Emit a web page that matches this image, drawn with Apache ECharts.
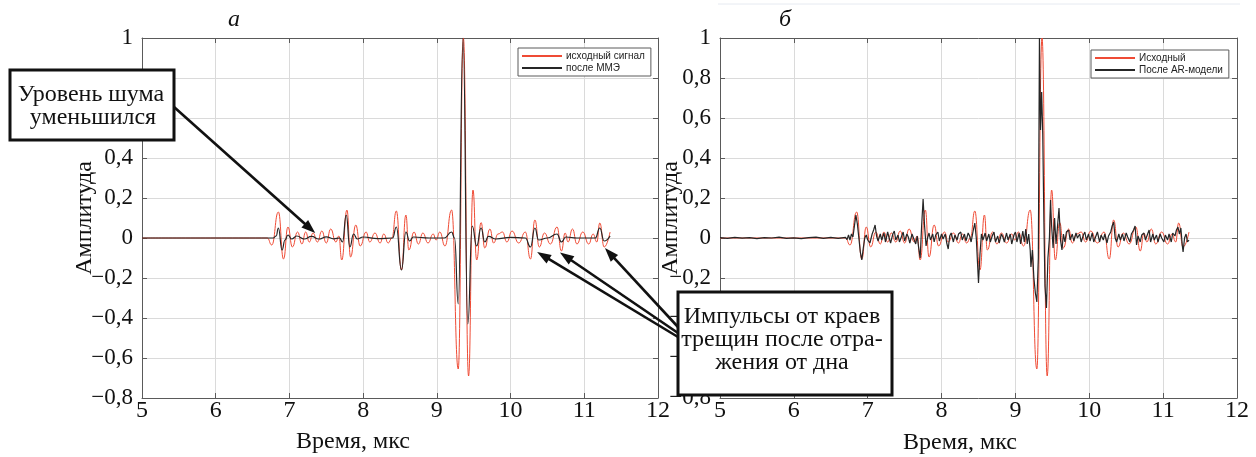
<!DOCTYPE html>
<html><head><meta charset="utf-8">
<script src="https://cdn.jsdelivr.net/npm/echarts@6/dist/echarts.min.js"></script>
<style>html,body{margin:0;padding:0;background:#fff}#c{width:1256px;height:457px}</style>
</head><body><div id="c"></div>
<script>
// ---- axis settings ----
const timeMin = 5, timeMax = 12, timeStep = 1;
const ampMin = -0.8, ampMax = 1, ampStep = 0.2;

// ---- series names ----
const leftNames = ['исходный сигнал', 'после ММЭ'];
const rightNames = ['Исходный', 'После AR-модели'];

// ---- original (raw) signal: extrema [time µs, amplitude] ----
const originalSignal = [
[5.0,0],[6.70,0],[6.76,-0.035],[6.85,0.13],[6.92,-0.105],[6.98,0.055],[7.04,-0.045],[7.11,0.03],
[7.17,-0.03],[7.22,0.03],[7.27,-0.02],[7.32,0.025],[7.38,-0.02],[7.44,0.035],[7.50,-0.025],[7.56,0.045],
[7.63,-0.02],[7.67,0.01],[7.71,-0.11],[7.78,0.14],[7.83,-0.095],[7.90,0.065],[7.96,-0.04],[8.04,0.03],
[8.09,-0.02],[8.16,0.025],[8.23,-0.025],[8.28,0.02],[8.34,-0.025],[8.39,0.0],[8.45,0.135],[8.52,-0.16],
[8.58,0.115],[8.62,-0.06],[8.69,0.03],[8.75,-0.03],[8.81,0.025],[8.88,-0.025],[8.95,0.02],[8.99,-0.01],
[9.04,0.03],[9.11,-0.04],[9.20,0.14],[9.29,-0.655],[9.36,1.0],[9.43,-0.69],[9.49,0.24],[9.54,-0.11],
[9.60,0.077],[9.65,-0.05],[9.72,0.045],[9.77,-0.025],[9.83,0.02],[9.89,0.03],[9.95,-0.02],[10.02,0.035],
[10.11,-0.025],[10.20,0.03],[10.27,-0.105],[10.33,0.09],[10.39,-0.045],[10.46,0.025],[10.54,-0.03],[10.63,0.055],
[10.69,-0.065],[10.74,0.025],[10.78,-0.02],[10.84,0.045],[10.90,-0.03],[10.98,0.03],[11.06,-0.03],[11.12,0.02],
[11.17,-0.02],[11.21,0.075],[11.27,-0.045],[11.35,0.03]
];

// ---- signal after ММЭ (left panel, black) ----
const afterMME = [
[5.0,0],[6.78,0],[6.82,0.01],[6.85,0.05],[6.90,-0.06],[6.94,-0.01],[6.98,0.015],[7.03,-0.005],
[7.10,0.01],[7.20,-0.005],[7.30,0.008],[7.40,-0.005],[7.50,0.006],[7.60,-0.004],[7.68,0.0],[7.72,-0.02],
[7.77,0.115],[7.82,-0.045],[7.87,0.02],[7.92,-0.005],[8.00,0.005],[8.20,-0.003],[8.40,0.0],[8.45,0.055],
[8.52,-0.16],[8.58,0.03],[8.63,-0.015],[8.68,0.005],[8.90,0.0],[9.10,0.0],[9.20,0.03],[9.24,0.0],
[9.29,-0.33],[9.355,1.0],[9.42,-0.43],[9.48,0.06],[9.54,-0.04],[9.60,0.05],[9.65,-0.02],[9.70,0.008],
[9.80,-0.005],[10.00,0.003],[10.20,0.0],[10.27,-0.045],[10.33,0.05],[10.38,-0.01],[10.50,0.0],[10.63,0.02],
[10.69,-0.02],[10.75,0.005],[10.90,0.0],[11.15,0.0],[11.21,0.05],[11.27,-0.015],[11.35,0.01]
];

// ---- signal after AR model (right panel, black) ----
const afterAR = [
[5.0,0.002],[5.1,-0.002],[5.2,0.003],[5.3,-0.001],[5.4,0.002],[5.5,-0.003],[5.6,0.002],[5.7,0.0],
[5.8,0.004],[5.9,-0.002],[6.0,0.001],[6.1,-0.003],[6.2,0.002],[6.3,0.004],[6.4,-0.002],[6.5,0.003],
[6.6,-0.002],[6.7,0.003],
[6.72,-0.008],[6.74,0.015],[6.76,-0.01],[6.78,0.02],[6.80,0.005],[6.82,0.06],[6.84,0.115],[6.86,0.07],
[6.88,0.0],[6.90,-0.07],[6.92,-0.11],[6.94,-0.05],[6.96,0.0],[6.98,0.015],[7.00,-0.01],[7.03,-0.025],
[7.06,0.02],[7.08,0.04],[7.10,0.065],[7.12,0.01],[7.14,-0.015],[7.17,0.02],[7.19,-0.01],[7.22,0.025],
[7.24,-0.02],[7.27,0.03],[7.29,0.0],[7.31,-0.025],[7.34,0.02],[7.36,0.035],[7.38,-0.01],[7.41,0.015],
[7.43,-0.02],[7.46,0.01],[7.48,0.03],[7.50,-0.015],[7.53,0.02],[7.55,0.005],[7.57,-0.025],[7.60,0.02],
[7.62,0.0],[7.65,-0.03],[7.67,0.01],[7.69,-0.05],[7.71,-0.1],[7.73,0.06],[7.75,0.195],[7.77,0.06],
[7.79,-0.04],[7.81,0.0],[7.83,0.025],[7.85,-0.01],[7.88,0.02],[7.90,-0.02],[7.92,0.015],[7.95,0.03],
[7.97,-0.015],[8.00,0.02],[8.02,-0.005],[8.05,0.02],[8.07,-0.025],[8.09,-0.055],[8.11,0.01],[8.13,0.025],
[8.16,-0.02],[8.18,0.015],[8.21,-0.01],[8.23,0.02],[8.26,0.03],[8.28,-0.01],[8.31,0.02],[8.33,-0.015],
[8.36,0.025],[8.38,0.01],[8.40,-0.02],[8.43,0.04],[8.45,0.075],[8.47,0.0],[8.49,-0.15],[8.50,-0.225],
[8.52,-0.08],[8.54,0.02],[8.56,-0.01],[8.59,0.025],[8.61,-0.015],[8.64,0.02],[8.66,-0.02],[8.69,0.015],
[8.71,0.03],[8.73,-0.02],[8.76,0.01],[8.78,-0.025],[8.81,0.02],[8.83,0.005],[8.85,-0.02],[8.88,0.025],
[8.90,-0.01],[8.93,0.02],[8.95,-0.03],[8.98,0.015],[9.00,0.03],[9.02,-0.02],[9.05,0.025],[9.07,-0.03],
[9.10,0.035],[9.12,-0.02],[9.14,0.045],[9.16,-0.03],[9.18,0.02],[9.20,-0.06],[9.21,-0.145],[9.23,-0.06],
[9.25,-0.2],[9.27,-0.275],[9.29,-0.32],[9.31,-0.1],[9.325,1.0],[9.34,0.54],[9.355,0.73],[9.37,0.52],
[9.385,0.09],[9.40,-0.24],[9.42,-0.35],[9.44,-0.1],[9.46,0.0],[9.475,0.19],[9.49,0.06],[9.51,-0.05],
[9.53,0.1],[9.55,-0.03],[9.57,0.06],[9.59,0.15],[9.61,-0.01],[9.63,-0.06],[9.65,0.02],[9.67,-0.02],
[9.69,0.03],[9.72,0.04],[9.74,-0.01],[9.77,0.02],[9.79,-0.015],[9.82,0.025],[9.84,0.0],[9.87,0.02],
[9.89,-0.02],[9.92,0.015],[9.94,0.03],[9.96,-0.01],[9.99,0.02],[10.01,-0.015],[10.04,0.025],[10.06,-0.02],
[10.09,0.01],[10.11,0.03],[10.14,-0.02],[10.16,0.015],[10.19,-0.01],[10.21,0.02],[10.24,-0.025],[10.26,0.01],
[10.29,0.03],[10.31,0.06],[10.33,0.08],[10.35,0.0],[10.37,-0.02],[10.40,0.02],[10.42,-0.01],[10.45,0.02],
[10.47,-0.015],[10.50,0.025],[10.52,0.005],[10.55,-0.02],[10.57,0.02],[10.60,0.04],[10.62,0.06],[10.64,-0.035],
[10.66,0.01],[10.69,-0.02],[10.71,0.015],[10.74,0.025],[10.76,-0.01],[10.79,0.02],[10.81,0.04],[10.83,-0.02],
[10.86,0.02],[10.88,-0.01],[10.91,0.015],[10.93,-0.02],[10.96,0.02],[10.98,0.0],[11.01,-0.02],[11.03,0.015],
[11.06,-0.01],[11.08,0.02],[11.11,-0.02],[11.13,0.025],[11.16,0.01],[11.18,0.04],[11.20,0.055],[11.22,0.02],
[11.24,0.05],[11.26,-0.04],[11.27,-0.07],[11.29,0.0],[11.31,0.02],[11.33,-0.02],[11.35,-0.01]
];

// ---- annotation texts / anchor points (data coords) ----
const noteNoise = ['Уровень шума', 'уменьшился'];
const noteNoiseTarget = [7.35, 0.025];
const notePulses = ['Импульсы от краев', 'трещин после отра-', 'жения от дна'];
const notePulseTargets = [[10.36, -0.07], [10.67, -0.073], [11.28, -0.05]];

const SERIF = '"Liberation Serif","Times New Roman",serif';
const SANS = '"Liberation Sans",Arial,sans-serif';
const RED = '#ef4b35';
const BLACK = '#262626';
const FRAME = '#5a5a5a';
const GRIDC = '#dadada';

const fmtY = v => { const r = Math.round(v * 10) / 10; if (r === 0) return '0'; return (r < 0 ? '\u2212' : '') + String(Math.abs(r)).replace('.', ','); };

function xAxisBottom(g) {
  return { type: 'value', gridIndex: g, min: timeMin, max: timeMax, interval: timeStep, position: 'bottom',
    axisLine: { show: true, onZero: false, lineStyle: { color: FRAME, width: 1 } },
    axisTick: { show: true, inside: true, length: 5, lineStyle: { color: FRAME } },
    axisLabel: { show: true, color: '#111', fontFamily: SERIF, fontSize: 24, margin: 1 },
    splitLine: { show: true, lineStyle: { color: GRIDC, width: 1 } } };
}
function xAxisTop(g) {
  return { type: 'value', gridIndex: g, min: timeMin, max: timeMax, interval: timeStep, position: 'top',
    axisLine: { show: true, onZero: false, lineStyle: { color: FRAME, width: 1 } },
    axisTick: { show: true, inside: true, length: 5, lineStyle: { color: FRAME } },
    axisLabel: { show: false }, splitLine: { show: false } };
}
function yAxisLeft(g, gap) {
  return { type: 'value', gridIndex: g, min: ampMin, max: ampMax, interval: ampStep, position: 'left',
    name: 'Амплитуда', nameLocation: 'middle', nameGap: gap, nameRotate: 90, nameMoveOverlap: false,
    nameTextStyle: { fontFamily: SERIF, fontSize: 24, color: '#111' },
    axisLine: { show: true, onZero: false, lineStyle: { color: FRAME, width: 1 } },
    axisTick: { show: true, inside: true, length: 5, lineStyle: { color: FRAME } },
    axisLabel: { show: true, color: '#111', fontFamily: SERIF, fontSize: 23, margin: 9, formatter: fmtY },
    splitLine: { show: true, lineStyle: { color: GRIDC, width: 1 } } };
}
function yAxisRight(g) {
  return { type: 'value', gridIndex: g, min: ampMin, max: ampMax, interval: ampStep, position: 'right',
    axisLine: { show: true, onZero: false, lineStyle: { color: FRAME, width: 1 } },
    axisTick: { show: true, inside: true, length: 5, lineStyle: { color: FRAME } },
    axisLabel: { show: false }, splitLine: { show: false } };
}
function legendCfg(names, left, top) {
  return { data: names, left: left, top: top, orient: 'vertical', icon: 'rect', itemWidth: 40, itemHeight: 2,
    itemGap: 2, padding: [3, 6, 3, 4], borderColor: FRAME, borderWidth: 1, backgroundColor: '#fff',
    selectedMode: false, textStyle: { fontFamily: SANS, fontSize: 10, color: '#222', padding: [0, 0, 0, -1] } };
}

const chart = echarts.init(document.getElementById('c'), null, { renderer: 'canvas' });
chart.setOption({
  animation: false,
  backgroundColor: '#fff',
  grid: [
    { left: 142, top: 38, width: 516, height: 360 },
    { left: 720, top: 38, width: 517, height: 360 }
  ],
  xAxis: [xAxisBottom(0), xAxisTop(0), xAxisBottom(1), xAxisTop(1)],
  yAxis: [yAxisLeft(0, 45), yAxisRight(0), yAxisLeft(1, 37), yAxisRight(1)],
  legend: [legendCfg(leftNames, 518, 48), legendCfg(rightNames, 1091, 50)],
  series: [
    { type: 'line', name: leftNames[0], xAxisIndex: 0, yAxisIndex: 0, data: originalSignal, showSymbol: false,
      smooth: 0.5, smoothMonotone: 'x', lineStyle: { color: RED, width: 1 }, itemStyle: { color: RED }, z: 2 },
    { type: 'line', name: leftNames[1], xAxisIndex: 0, yAxisIndex: 0, data: afterMME, showSymbol: false,
      smooth: 0.5, smoothMonotone: 'x', lineStyle: { color: BLACK, width: 1.2 }, itemStyle: { color: BLACK }, z: 3 },
    { type: 'line', name: rightNames[0], xAxisIndex: 2, yAxisIndex: 2, data: originalSignal, showSymbol: false,
      smooth: 0.5, smoothMonotone: 'x', lineStyle: { color: RED, width: 1 }, itemStyle: { color: RED }, z: 2 },
    { type: 'line', name: rightNames[1], xAxisIndex: 2, yAxisIndex: 2, data: afterAR, showSymbol: false,
      lineStyle: { color: BLACK, width: 1.2 }, itemStyle: { color: BLACK }, z: 3 }
  ]
});

// ---- decorations: titles, axis names, annotation boxes, arrows ----
function txt(t, x, y, font, z) {
  return { type: 'text', x: x, y: y, z: z || 100, style: { text: t, font: font, fill: '#111', align: 'center', verticalAlign: 'middle' } };
}
function arrow(from, to) {
  const dx = to[0] - from[0], dy = to[1] - from[1], L = Math.hypot(dx, dy);
  const ux = dx / L, uy = dy / L, hl = 14, hw = 5;
  const bx = to[0] - ux * hl, by = to[1] - uy * hl;
  return [
    { type: 'line', z: 101, shape: { x1: from[0], y1: from[1], x2: bx + ux * 3, y2: by + uy * 3 }, style: { stroke: '#111', lineWidth: 2.6 } },
    { type: 'polygon', z: 101, shape: { points: [to, [bx - uy * hw, by + ux * hw], [bx + uy * hw, by - ux * hw]] }, style: { fill: '#111' } }
  ];
}
const px = (g, p) => chart.convertToPixel({ xAxisIndex: g === 0 ? 0 : 2, yAxisIndex: g === 0 ? 0 : 2 }, p);

const G = [];
G.push({ type: 'line', z: 1, shape: { x1: 718, y1: 4, x2: 1240, y2: 4 }, style: { stroke: '#e6eaf1', lineWidth: 1 } });
G.push(txt('а', 234, 20, 'italic 24px ' + SERIF));
G.push(txt('б', 785, 20, 'italic 24px ' + SERIF));
G.push(txt('Время, мкс', 353, 442, '24px ' + SERIF));
G.push(txt('Время, мкс', 960, 443, '24px ' + SERIF));
// box 1
G.push({ type: 'rect', z: 99, shape: { x: 10, y: 70, width: 164, height: 70 }, style: { fill: '#fff', stroke: '#111', lineWidth: 3 } });
G.push(txt(noteNoise[0], 91, 95, '24px ' + SERIF));
G.push(txt(noteNoise[1], 93, 118, '24px ' + SERIF));
arrow([174, 107], px(0, noteNoiseTarget)).forEach(e => G.push(e));
// box 2
G.push({ type: 'rect', z: 99, shape: { x: 678, y: 292, width: 214, height: 103 }, style: { fill: '#fff', stroke: '#111', lineWidth: 3 } });
G.push(txt(notePulses[0], 782, 317, '24px ' + SERIF));
G.push(txt(notePulses[1], 782, 340, '24px ' + SERIF));
G.push(txt(notePulses[2], 782, 363, '24px ' + SERIF));
const origins = [[678, 337], [678, 333], [678, 327]];
notePulseTargets.forEach((t, i) => arrow(origins[i], px(0, t)).forEach(e => G.push(e)));

chart.setOption({ graphic: { elements: G } });
</script>
</body></html>
